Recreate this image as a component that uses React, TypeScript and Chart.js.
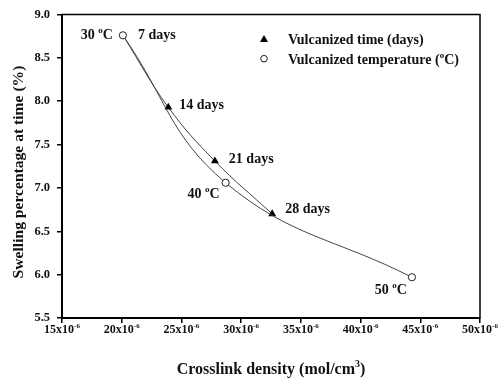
import { useEffect, useRef } from 'react';
import { Chart, registerables } from 'chart.js';

Chart.register(...registerables);

// Axis ticks
const X_TICKS = [15, 20, 25, 30, 35, 40, 45, 50];
const Y_TICKS = [5.5, 6.0, 6.5, 7.0, 7.5, 8.0, 8.5, 9.0];

// Vulcanized time series (crosslink density x1e-6 mol/cm3, swelling %)
const TIME_DENSITY = [20.1, 23.9, 27.8, 32.6];
const TIME_SWELLING = [8.76, 7.93, 7.31, 6.7];
const TIME_LABELS = ['7 days', '14 days', '21 days', '28 days'];

// Vulcanized temperature series
const TEMP_DENSITY = [20.1, 28.7, 44.3];
const TEMP_SWELLING = [8.76, 7.06, 5.97];
const TEMP_LABELS = ['30', '40', '50'];

const SERIF = '"Liberation Serif", "Times New Roman", serif';
const INK = '#111';

type Part = { t: string; sup?: boolean };
type Align = 'left' | 'center' | 'right';

// Draws text made of normal and superscript runs; y is the baseline.
function drawRich(ctx: CanvasRenderingContext2D, parts: Part[], x: number, y: number, size: number, align: Align) {
  const supSize = Math.round(size * 0.62);
  const fontOf = (p: Part) => `bold ${p.sup ? supSize : size}px ${SERIF}`;
  const widths = parts.map((p) => {
    ctx.font = fontOf(p);
    return ctx.measureText(p.t).width;
  });
  const total = widths.reduce((a, b) => a + b, 0);
  let cx = align === 'left' ? x : align === 'right' ? x - total : x - total / 2;
  ctx.textAlign = 'left';
  ctx.textBaseline = 'alphabetic';
  parts.forEach((p, i) => {
    ctx.font = fontOf(p);
    ctx.fillText(p.t, cx, p.sup ? y - size * 0.42 : y);
    cx += widths[i];
  });
}

const degC = (n: string): Part[] => [{ t: n + ' ' }, { t: 'o', sup: true }, { t: 'C' }];

// Label offsets from their points: [dx, dy of text middle, alignment]
const TIME_LABEL_POS: [number, number, Align][] = [
  [15, -1, 'left'],
  [11, -3, 'left'],
  [14, -3, 'left'],
  [13, -6, 'left'],
];
const TEMP_LABEL_POS: [number, number, Align][] = [
  [-10, -1, 'right'],
  [-6, 10.5, 'right'],
  [-5, 12, 'right'],
];

const decorations = {
  id: 'decorations',
  afterDraw(chart: Chart) {
    const ctx = chart.ctx;
    const { left, right, top, bottom } = chart.chartArea;
    const xs = chart.scales.x;
    const ys = chart.scales.y;
    ctx.save();

    // frame
    ctx.strokeStyle = '#000';
    ctx.lineWidth = 1.5;
    ctx.strokeRect(left, top, right - left, bottom - top);
    ctx.lineWidth = 2;
    ctx.beginPath();
    ctx.moveTo(left, top);
    ctx.lineTo(left, bottom);
    ctx.lineTo(right, bottom);
    ctx.stroke();

    ctx.fillStyle = INK;
    const labelSize = 14;

    // point labels
    TIME_LABELS.forEach((lab, i) => {
      const [dx, dy, al] = TIME_LABEL_POS[i];
      const px = xs.getPixelForValue(TIME_DENSITY[i]);
      const py = ys.getPixelForValue(TIME_SWELLING[i]);
      drawRich(ctx, [{ t: lab }], px + dx, py + dy + labelSize * 0.35, labelSize, al);
    });
    TEMP_LABELS.forEach((lab, i) => {
      const [dx, dy, al] = TEMP_LABEL_POS[i];
      const px = xs.getPixelForValue(TEMP_DENSITY[i]);
      const py = ys.getPixelForValue(TEMP_SWELLING[i]);
      drawRich(ctx, degC(lab), px + dx, py + dy + labelSize * 0.35, labelSize, al);
    });

    // x tick labels
    X_TICKS.forEach((v) => {
      const px = xs.getPixelForValue(v);
      drawRich(ctx, [{ t: `${v}x10` }, { t: '-6', sup: true }], px, bottom + 15, 12, 'center');
    });

    // axis titles
    drawRich(
      ctx,
      [{ t: 'Crosslink density (mol/cm' }, { t: '3', sup: true }, { t: ')' }],
      (left + right) / 2,
      374,
      16,
      'center'
    );
    ctx.save();
    ctx.translate(17, 172);
    ctx.rotate(-Math.PI / 2);
    drawRich(ctx, [{ t: 'Swelling percentage at time (%)' }], 0, 5.5, 15.6, 'center');
    ctx.restore();

    // legend
    const lx = 264;
    const tx = 288;
    const rows = [39, 58.7];
    ctx.fillStyle = '#000';
    ctx.beginPath();
    ctx.moveTo(lx, rows[0] - 4);
    ctx.lineTo(lx + 4, rows[0] + 3);
    ctx.lineTo(lx - 4, rows[0] + 3);
    ctx.closePath();
    ctx.fill();
    ctx.beginPath();
    ctx.arc(lx, rows[1], 3.3, 0, Math.PI * 2);
    ctx.fillStyle = '#fff';
    ctx.fill();
    ctx.lineWidth = 1;
    ctx.strokeStyle = '#222';
    ctx.stroke();
    ctx.fillStyle = INK;
    drawRich(ctx, [{ t: 'Vulcanized time (days)' }], tx, rows[0] + 14 * 0.35, 14, 'left');
    drawRich(
      ctx,
      [{ t: 'Vulcanized temperature (' }, { t: 'o', sup: true }, { t: 'C)' }],
      tx,
      rows[1] + 14 * 0.35,
      14,
      'left'
    );

    ctx.restore();
  },
};

export default function App() {
  const canvasRef = useRef<HTMLCanvasElement | null>(null);

  useEffect(() => {
    document.body.style.margin = '0';
    const canvas = canvasRef.current;
    if (!canvas) return;

    const chart = new Chart(canvas, {
      type: 'line',
      data: {
        datasets: [
          {
            label: 'Vulcanized temperature (°C)',
            data: TEMP_DENSITY.map((x, i) => ({ x, y: TEMP_SWELLING[i] })),
            borderColor: '#444',
            borderWidth: 1,
            tension: 0.42,
            pointStyle: 'circle',
            pointRadius: 3.6,
            pointBackgroundColor: '#fff',
            pointBorderColor: '#222',
            pointBorderWidth: 1,
            fill: false,
          },
          {
            label: 'Vulcanized time (days)',
            data: TIME_DENSITY.map((x, i) => ({ x, y: TIME_SWELLING[i] })),
            borderColor: '#444',
            borderWidth: 1,
            tension: 0.4,
            pointStyle: 'triangle',
            pointRadius: (c: any) => (c.dataIndex === 0 ? 0 : 4.6),
            pointBackgroundColor: '#000',
            pointBorderColor: '#000',
            pointBorderWidth: 0,
            fill: false,
          },
        ],
      },
      options: {
        responsive: false,
        animation: false,
        events: [],
        layout: { padding: { top: 13, right: 21, left: 0, bottom: 0 } },
        plugins: {
          legend: { display: false },
          tooltip: { enabled: false },
        },
        scales: {
          x: {
            type: 'linear',
            min: 15,
            max: 50,
            afterBuildTicks: (s: any) => {
              s.ticks = X_TICKS.map((value) => ({ value }));
            },
            afterFit: (s: any) => {
              s.height = 62;
            },
            ticks: { display: false },
            border: { display: false },
            grid: {
              drawOnChartArea: false,
              drawTicks: true,
              tickLength: 5,
              tickColor: '#000',
              lineWidth: 1.5,
            },
          },
          y: {
            type: 'linear',
            min: 5.5,
            max: 9.0,
            afterBuildTicks: (s: any) => {
              s.ticks = Y_TICKS.map((value) => ({ value }));
            },
            afterFit: (s: any) => {
              s.width = 62;
            },
            ticks: {
              color: INK,
              padding: 7,
              font: { family: SERIF, weight: 'bold', size: 12.5 },
              callback: (v: any) => Number(v).toFixed(1),
            },
            border: { display: false },
            grid: {
              drawOnChartArea: false,
              drawTicks: true,
              tickLength: 5,
              tickColor: '#000',
              lineWidth: 1.5,
            },
          },
        },
      },
      plugins: [decorations],
    });

    return () => chart.destroy();
  }, []);

  return <canvas ref={canvasRef} width={501} height={380} style={{ display: 'block' }} />;
}
